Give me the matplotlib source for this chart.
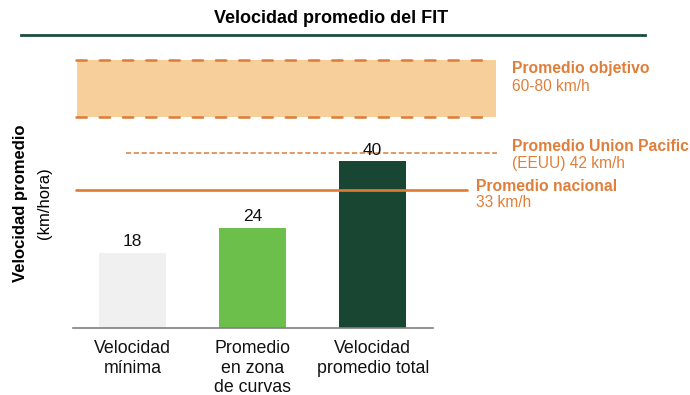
import numpy as np
import matplotlib
matplotlib.use('Agg')
import matplotlib.pyplot as plt
from matplotlib.lines import Line2D

plt.rcParams['font.family'] = ['Liberation Sans', 'DejaVu Sans']

categorias = ['Velocidad\nmínima', 'Promedio\nen zona\nde curvas', 'Velocidad\npromedio total']
velocidades = [18, 24, 40]
colores_barras = ['#F0F0F0', '#6CBF4A', '#184633']

promedio_nacional = 33
promedio_union_pacific = 42
objetivo_min, objetivo_max = 60, 80

naranja = '#DE7B34'
naranja_texto = '#E07F3A'
banda = '#F7CF9B'

# eje lineal hasta 42 km/h; el tramo del objetivo (42-80) va comprimido
escala_v = [0, 42, 60, 80]
escala_d = [0, 42, 50.7, 64.35]


def fwd(v):
    return np.interp(v, escala_v, escala_d)


def inv(d):
    return np.interp(d, escala_d, escala_v)


fig = plt.figure(figsize=(6.9, 3.95), dpi=100)
ax = fig.add_axes([0.1054, 0.1704, 0.5217, 0.6777])
ax.set_yscale('function', functions=(fwd, inv))

x = np.arange(len(categorias))
barras = ax.bar(x, velocidades, width=0.558, color=colores_barras, zorder=2)
for xi, v in zip(x, velocidades):
    ax.annotate(str(v), (xi, v), xytext=(0, 11), textcoords='offset pixels',
                ha='center', va='center', fontsize=12.5, color='#111111')

# banda del promedio objetivo
ax.fill_between([-0.467, 3.03], objetivo_min, objetivo_max, color=banda,
                lw=0, zorder=1, clip_on=False)
for y in (objetivo_min, objetivo_max):
    ax.plot([-0.475, 2.94], [y, y], color=naranja, lw=1.8,
            linestyle=(0, (4.1, 5.2)), dash_capstyle='round', clip_on=False, zorder=3)

# promedio Union Pacific
ax.plot([-0.058, 3.036], [promedio_union_pacific] * 2, color=naranja, lw=1.1,
        linestyle=(0, (3.4, 1.7)), clip_on=False, zorder=1)
# promedio nacional
ax.plot([-0.475, 2.786], [promedio_nacional] * 2, color=naranja, lw=1.9,
        solid_capstyle='round', clip_on=False, zorder=3)


def etiqueta(xt, y, titulo, detalle, arriba, abajo):
    ax.annotate(titulo, (xt, y), xytext=(0, arriba), textcoords='offset pixels',
                ha='left', va='center', fontsize=11.3, fontweight='bold',
                color=naranja_texto, annotation_clip=False)
    ax.annotate(detalle, (xt, y), xytext=(0, abajo), textcoords='offset pixels',
                ha='left', va='center', fontsize=11.2,
                color=naranja_texto, annotation_clip=False)


etiqueta(3.16, objetivo_max, 'Promedio objetivo',
         f'{objetivo_min}-{objetivo_max} km/h', -8, -26)
etiqueta(3.16, promedio_union_pacific, 'Promedio Union Pacific',
         f'(EEUU) {promedio_union_pacific} km/h', 6, -11)
etiqueta(2.86, promedio_nacional, 'Promedio nacional',
         f'{promedio_nacional} km/h', 4, -12)

ax.set_xlim(-0.5, 2.5)
ax.set_ylim(0, objetivo_max)
ax.set_xticks(x)
ax.set_xticklabels(categorias, fontsize=12.8, color='#111111', linespacing=1.2)
ax.tick_params(axis='x', length=0, pad=9)
ax.set_yticks([])
ax.yaxis.set_minor_locator(matplotlib.ticker.NullLocator())
for s in ('top', 'right', 'left'):
    ax.spines[s].set_visible(False)
ax.spines['bottom'].set_color('#808080')
ax.spines['bottom'].set_linewidth(1.2)
ax.spines['bottom'].set_zorder(4)

fig.text(0.029, 0.486, 'Velocidad promedio', rotation=90, ha='center', va='center',
         fontsize=12, fontweight='bold', color='#000000')
fig.text(0.064, 0.486, '(km/hora)', rotation=90, ha='center', va='center',
         fontsize=12, color='#000000')

fig.text(0.48, 0.954, 'Velocidad promedio del FIT', ha='center', va='center',
         fontsize=13, fontweight='bold', color='#000000')
fig.add_artist(Line2D([21 / 690, 645 / 690], [0.911, 0.911], color='#1E4D3A', lw=2,
                      transform=fig.transFigure))

fig.savefig('out.png', dpi=100)
